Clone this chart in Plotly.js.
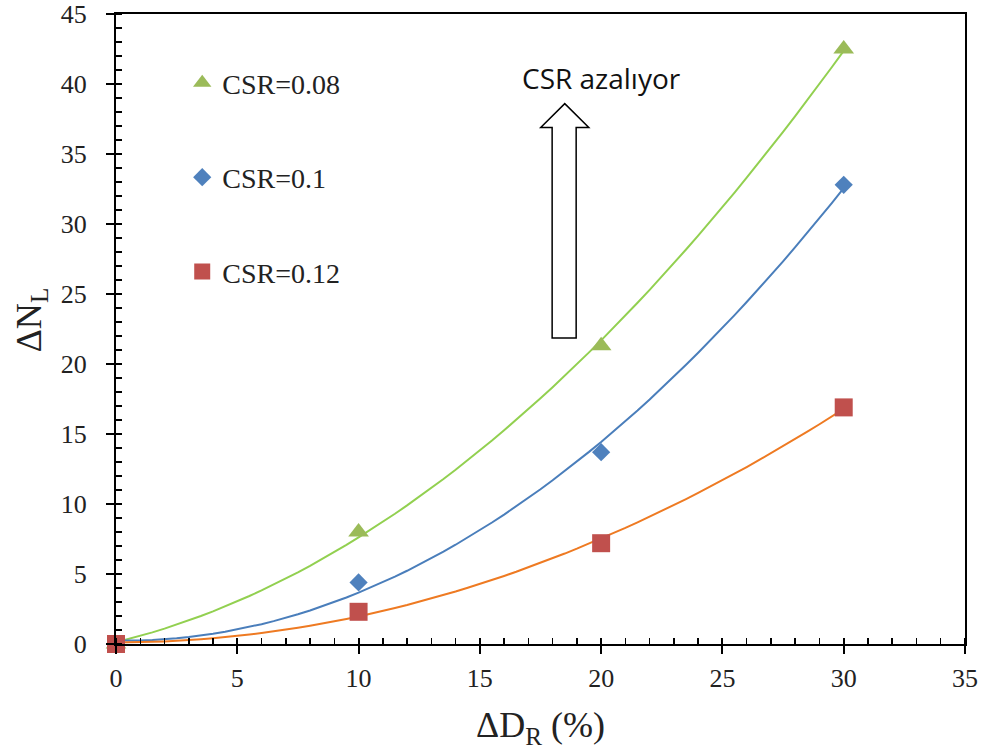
<!DOCTYPE html>
<html>
<head>
<meta charset="utf-8">
<script src="https://cdn.plot.ly/plotly-3.0.1.min.js"></script>
<style>
  html, body { margin: 0; padding: 0; background: #ffffff; }
  #chart { width: 989px; height: 755px; }
</style>
</head>
<body>
<div id="chart"></div>
<script>
// Relative density change ΔD_R (%) and the resulting change in cycles to liquefaction ΔN_L
const deltaDR = [0, 10, 20, 30];
const dnl_csr008 = [0, 8.0, 21.3, 42.5];
const dnl_csr010 = [0, 4.4, 13.7, 32.8];
const dnl_csr012 = [0, 2.3, 7.2, 16.9];

const seriesNames = ['CSR=0.08', 'CSR=0.1', 'CSR=0.12'];
const xTickVals = [0, 5, 10, 15, 20, 25, 30, 35];
const yTickVals = [0, 5, 10, 15, 20, 25, 30, 35, 40, 45];

// Least-squares second-order polynomial trendline through a series
function quadFit(xs, ys) {
  let S = [0, 0, 0, 0, 0], T = [0, 0, 0];
  for (let i = 0; i < xs.length; i++) {
    let p = 1;
    for (let k = 0; k < 5; k++) { S[k] += p; if (k < 3) T[k] += p * ys[i]; p *= xs[i]; }
  }
  const A = [[S[0], S[1], S[2], T[0]], [S[1], S[2], S[3], T[1]], [S[2], S[3], S[4], T[2]]];
  for (let c = 0; c < 3; c++) {
    for (let r = c + 1; r < 3; r++) {
      const f = A[r][c] / A[c][c];
      for (let k = c; k < 4; k++) A[r][k] -= f * A[c][k];
    }
  }
  const coef = [0, 0, 0];
  for (let r = 2; r >= 0; r--) {
    let s = A[r][3];
    for (let k = r + 1; k < 3; k++) s -= A[r][k] * coef[k];
    coef[r] = s / A[r][r];
  }
  return coef;
}

function trend(xs, ys) {
  const c = quadFit(xs, ys);
  const x0 = Math.min(...xs), x1 = Math.max(...xs);
  const tx = [], ty = [];
  for (let i = 0; i <= 60; i++) {
    const x = x0 + (x1 - x0) * i / 60;
    tx.push(x); ty.push(c[0] + c[1] * x + c[2] * x * x);
  }
  return { x: tx, y: ty };
}

const serif = 'Liberation Serif, Times New Roman, serif';
const seriesY = [dnl_csr008, dnl_csr010, dnl_csr012];
const markerStyle = [
  { symbol: 'triangle-up', size: 18, color: '#9BBB59' },
  { symbol: 'diamond', size: 14, color: '#4F81BD' },
  { symbol: 'square', size: 18, color: '#C0504D' }
];
const lineColors = ['#92D050', '#4A7EBB', '#EE7A22'];

const traces = [];
seriesY.forEach((ys, i) => {
  const t = trend(deltaDR, ys);
  traces.push({
    type: 'scatter', mode: 'lines', x: t.x, y: t.y,
    line: { color: lineColors[i], width: 2 },
    showlegend: false, hoverinfo: 'skip'
  });
});
seriesY.forEach((ys, i) => {
  traces.push({
    type: 'scatter', mode: 'markers', x: deltaDR, y: ys, cliponaxis: false,
    name: seriesNames[i], legendgroup: 'g' + i,
    marker: { symbol: markerStyle[i].symbol, size: markerStyle[i].size, color: markerStyle[i].color }
  });
});
// empty trace carrying the overlay axes that draw the inner half of the major ticks
traces.push({ type: 'scatter', mode: 'markers', x: [], y: [], xaxis: 'x2', yaxis: 'y2', showlegend: false, hoverinfo: 'skip' });

const axisCommon = {
  showgrid: false, zeroline: false,
  showline: true, linecolor: '#000000', linewidth: 2, mirror: true,
  ticks: 'outside', ticklen: 8, tickwidth: 2, tickcolor: '#000000',
  tickfont: { family: serif, size: 26, color: '#222222' }
};

const layout = {
  width: 989, height: 755,
  margin: { l: 116, r: 24, t: 14, b: 111 },
  paper_bgcolor: '#ffffff', plot_bgcolor: 'rgba(0,0,0,0)',
  showlegend: true,
  legend: {
    x: 0.078, xanchor: 'left', y: 0.93, yanchor: 'top',
    bgcolor: 'rgba(0,0,0,0)', borderwidth: 0,
    tracegroupgap: 55,
    font: { family: serif, size: 28, color: '#222222' }
  },
  xaxis: Object.assign({}, axisCommon, {
    range: [0, 35], tickvals: xTickVals, ticklabelstandoff: 2,
    minor: { dtick: 1, tick0: 0, ticks: 'inside', ticklen: 6, tickwidth: 1.5, tickcolor: '#000000' },
    title: { text: 'ΔD<sub>R</sub> (%)', font: { family: serif, size: 36, color: '#222222' }, standoff: 20 }
  }),
  yaxis: Object.assign({}, axisCommon, {
    range: [0, 45], tickvals: yTickVals, ticklabelstandoff: 14,
    minor: { dtick: 1, tick0: 0, ticks: 'inside', ticklen: 6, tickwidth: 1.5, tickcolor: '#000000' }
  }),
  xaxis2: {
    overlaying: 'x', anchor: 'y2', side: 'bottom', range: [0, 35], tickvals: xTickVals,
    showgrid: false, zeroline: false, showline: false, showticklabels: false,
    ticks: 'inside', ticklen: 6, tickwidth: 2, tickcolor: '#000000'
  },
  yaxis2: {
    overlaying: 'y', anchor: 'x2', side: 'left', range: [0, 45], tickvals: yTickVals,
    showgrid: false, zeroline: false, showline: false, showticklabels: false,
    ticks: 'inside', ticklen: 6, tickwidth: 2, tickcolor: '#000000'
  },
  shapes: [{
    // hollow block arrow pointing upward
    type: 'path', xref: 'x', yref: 'y', layer: 'above',
    path: 'M 17.98 21.85 L 18.97 21.85 L 18.97 36.9 L 19.49 36.9 L 18.5 38.6 L 17.51 36.9 L 17.98 36.9 Z',
    line: { color: '#000000', width: 1.5 }, fillcolor: 'rgba(255,255,255,1)'
  }],
  annotations: [
    {
      xref: 'x', yref: 'y', x: 20.0, y: 40.45, showarrow: false,
      text: 'CSR azalıyor',
      font: { family: 'Open Sans, Liberation Sans, sans-serif', size: 28, color: '#111111' }
    },
    {
      // y-axis title
      xref: 'paper', yref: 'paper', x: -0.1, y: 0.514, xanchor: 'center', yanchor: 'middle',
      showarrow: false, textangle: -90,
      text: 'ΔN<sub>L</sub>',
      font: { family: serif, size: 36, color: '#222222' }
    }
  ]
};

Plotly.newPlot('chart', traces, layout, { displayModeBar: false, staticPlot: true });
</script>
</body>
</html>
